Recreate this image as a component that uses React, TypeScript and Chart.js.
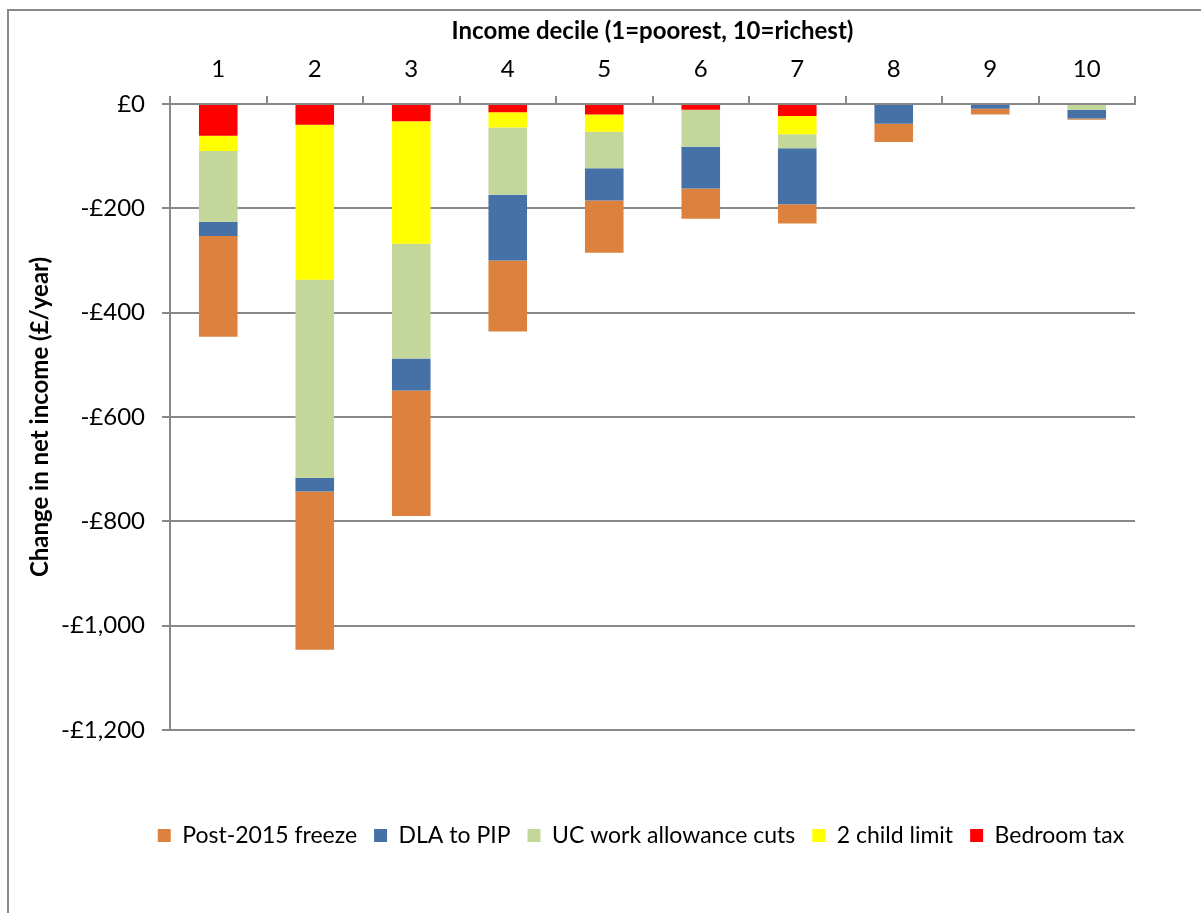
import React, { useEffect, useRef } from "react";
import { Chart, registerables } from "chart.js";

Chart.register(...registerables);

const deciles = ["1", "2", "3", "4", "5", "6", "7", "8", "9", "10"];
const bedroomTax = [-61, -40, -33, -16, -20, -11, -23, 0, 0, 0];
const twoChildLimit = [-29, -297, -235, -29, -33, 0, -35, 0, 0, 0];
const ucWorkAllowance = [-136, -380, -220, -129, -70, -71, -27, -2, 0, -11];
const dlaToPip = [-27, -26, -61, -126, -62, -80, -107, -36, -9, -17];
const post2015Freeze = [-193, -303, -241, -136, -100, -58, -37, -35, -11, -2];

const yTicks = [0, -200, -400, -600, -800, -1000, -1200];

const FONT = "Lato, 'Open Sans', sans-serif";
const GRID = "#888888";

export default function App() {
  const ref = useRef<HTMLCanvasElement | null>(null);

  useEffect(() => {
    document.documentElement.style.overflow = "hidden";
    document.body.style.overflow = "hidden";
    const canvas = ref.current;
    if (!canvas) return;
    const chart = new Chart(canvas, {
      type: "bar",
      data: {
        labels: deciles,
        datasets: [
          { label: "Bedroom tax", data: bedroomTax, backgroundColor: "#FF0000" },
          { label: "2 child limit", data: twoChildLimit, backgroundColor: "#FFFF00" },
          { label: "UC work allowance cuts", data: ucWorkAllowance, backgroundColor: "#C4D79B" },
          { label: "DLA to PIP", data: dlaToPip, backgroundColor: "#4571A7" },
          { label: "Post-2015 freeze", data: post2015Freeze, backgroundColor: "#DC823E" },
        ],
      },
      options: {
        animation: false,
        responsive: false,
        devicePixelRatio: 1,
        layout: { padding: { left: 0, right: 0, top: 0, bottom: 56 } },
        datasets: {
          bar: { barPercentage: 0.4, categoryPercentage: 1, borderWidth: 0 },
        },
        plugins: {
          tooltip: { enabled: false },
          legend: {
            position: "bottom",
            reverse: true,
            labels: {
              boxWidth: 13,
              boxHeight: 13,
              padding: 17,
              color: "#000",
              font: { family: FONT, size: 23 },
            },
          },
        },
        scales: {
          x: {
            type: "category",
            position: "top",
            stacked: true,
            offset: true,
            afterFit: (s: any) => {
              s.height = 93;
            },
            grid: {
              display: true,
              offset: true,
              drawOnChartArea: false,
              drawTicks: true,
              tickLength: 8,
              color: GRID,
              lineWidth: 2,
            },
            border: { display: true, color: GRID, width: 2 },
            ticks: {
              color: "#000",
              padding: 12,
              maxRotation: 0,
              font: { family: FONT, size: 24 },
            },
            title: {
              display: true,
              text: "Income decile (1=poorest, 10=richest)",
              color: "#000",
              padding: { top: 6, bottom: 0 },
              font: { family: FONT, size: 24, weight: "bold" },
            },
          },
          xb: {
            type: "category",
            position: "bottom",
            display: true,
            afterFit: (s: any) => {
              s.height = 77;
            },
            grid: { display: false },
            border: { display: false },
            ticks: { display: false },
          },
          y: {
            type: "linear",
            position: "left",
            stacked: true,
            min: -1200,
            max: 0,
            afterFit: (s: any) => {
              s.width = 161;
            },
            afterBuildTicks: (s: any) => {
              s.ticks = yTicks.map((v) => ({ value: v }));
            },
            grid: {
              color: GRID,
              lineWidth: 2,
              tickLength: 8,
              drawTicks: true,
            },
            border: { display: true, color: GRID, width: 2 },
            ticks: {
              color: "#000",
              padding: 17,
              font: { family: FONT, size: 24 },
              callback: (v: any) => {
                const n = Number(v);
                if (n === 0) return "£0";
                return (n < 0 ? "-" : "") + "£" + Math.abs(n).toLocaleString("en-GB");
              },
            },
            title: {
              display: true,
              text: "Change in net income (£/year)",
              color: "#000",
              padding: { top: 17, bottom: 0 },
              font: { family: FONT, size: 24, weight: "bold" },
            },
          },
          yr: {
            type: "linear",
            position: "right",
            display: true,
            afterFit: (s: any) => {
              s.width = 138;
            },
            grid: { display: false },
            border: { display: false },
            ticks: { display: false },
          },
        },
      },
    });
    return () => chart.destroy();
  }, []);

  return (
    <div
      style={{
        position: "absolute",
        left: 7,
        top: 9,
        width: 1300,
        height: 1000,
        borderTop: "2px solid #898989",
        borderLeft: "2px solid #898989",
        background: "#fff",
      }}
    >
      <canvas ref={ref} width={1264} height={902} style={{ display: "block", width: 1264, height: 902 }} />
    </div>
  );
}
